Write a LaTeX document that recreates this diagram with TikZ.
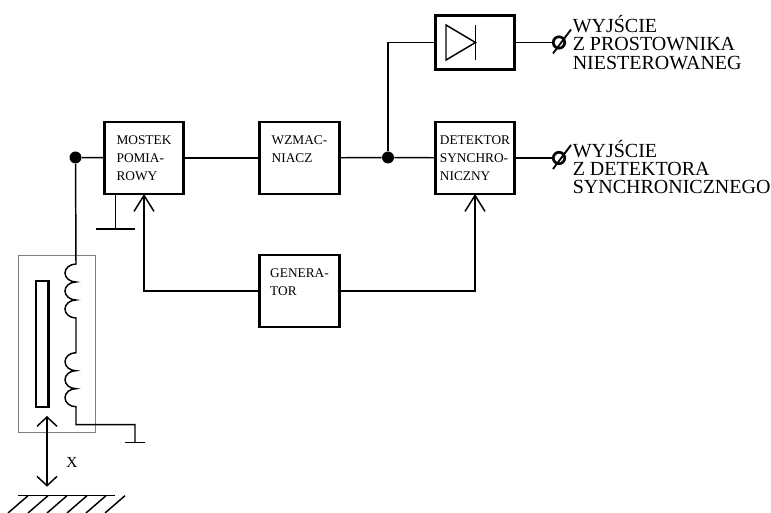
\documentclass[tikz,border=0pt]{standalone}
\usepackage{fontspec}
\setmainfont{Liberation Serif}
\usepackage{tikz}
\usetikzlibrary{arrows.meta}
\usepackage{xcolor}
\tikzset{
    blok/.style={draw, line width=2.2pt, minimum width=59.5pt, minimum height=54pt, inner xsep=0pt, align=left, font=\fontsize{10}{13.4}\selectfont, outer sep=0pt},
    linia/.style={line width=1.1pt},
    kropka/.style={circle, fill=black, inner sep=0pt, minimum size=9pt},
    wyjscie/.style={circle, draw, line width=2pt, inner sep=0pt, minimum size=8.6pt},
    opis/.style={anchor=west, align=left, inner sep=0pt, font=\fontsize{15}{13.6}\selectfont},
    grot/.style={-{Straight Barb[length=12pt, width=15pt, line width=1.1pt]}}
}
\begin{document}
\begin{tikzpicture}[x=0.75pt, y=-0.75pt]
            \useasboundingbox (0,0) rectangle (771,513);
            % bloki
            \node[blok] (mostek) at (144,158) {MOSTEK\\POMIA-\\ROWY};
            \node[blok] (wzmacniacz) at (299.5,158) {WZMAC-\\NIACZ\\~};
            \node[blok] (generator) at (299.5,291) {GENERA-\\TOR\\~};
            \node[blok] (detektor) at (475,158) {DETEKTOR\\SYNCHRO-\\NICZNY};
            \node[blok, minimum height=40pt] (dioda) at (475,42.5) {};
            % punkty
            \node[kropka] (wezel1) at (75.5,157.5) {};
            \node[kropka] (wezel2) at (388,157.5) {};
            \node[wyjscie] (wyj1) at (559,42.5) {};
            \node[wyjscie] (wyj2) at (559,158) {};
            \draw[line width=1.4pt] (wyj1.center) ++(-6,11) -- ++(18,-24);
            \draw[line width=1.4pt] (wyj2.center) ++(-6,11) -- ++(18,-24);
            % opisy wyjsc
            \node[opis] (opis1) at (572.5,42.5) {WYJŚCIE\\Z PROSTOWNIKA\\NIESTEROWANEG};
            \node[opis] (opis2) at (572.5,167) {WYJŚCIE\\Z DETEKTORA\\SYNCHRONICZNEGO};
            % polaczenia
            \draw[linia] (wezel1) -- (mostek);
            \draw[linia] (mostek) -- (wzmacniacz);
            \draw[linia] (wzmacniacz) -- (wezel2);
            \draw[linia] (wezel2) -- (detektor);
            \draw[linia] (wezel2) |- (dioda.west);
            \draw[linia] (dioda) -- (wyj1);
            \draw[linia] (detektor) -- (wyj2);
            \draw[linia, grot] (generator.west) -| (mostek.south);
            \draw[linia, grot] (generator.east) -| (detektor.south);
            % dioda
            \coordinate (d1) at (446,25);
            \coordinate (d2) at (446,60);
            \coordinate (d3) at (475.5,42.5);
            \draw[linia] (d1) -- (d2) -- (d3) -- cycle;
            \draw[linia] (475.5,25) -- (475.5,60);
            % masa mostka
            \coordinate (m1) at (115.3,194);
            \coordinate (m2) at (115.3,229);
            \draw[linia] (m1) -- (m2);
            \draw[linia] (96,229) -- (134.7,229);
            % czujnik
            \node[draw=gray, line width=0.75pt, minimum width=58pt, minimum height=132.5pt, inner sep=0pt] (czujnik) at (56.7,344.3) {};
            \node[draw, line width=2.2pt, minimum width=9.3pt, minimum height=94.5pt, inner sep=0pt] (rdzen) at (42.2,344) {};
            \coordinate (c1) at (76,264);
            \coordinate (c2) at (76,352.7);
            \draw[linia] (wezel1) -- (c1) \foreach \i in {1,2,3} {arc[start angle=270, end angle=90, x radius=11, y radius=9]} -- (c2) \foreach \i in {1,2,3} {arc[start angle=270, end angle=90, x radius=11, y radius=9]} -- ++(0,18) -| (135,442.7);
            \draw[linia] (125,442.7) -- (144.7,442.7);
            % przesuw
            \coordinate (x1) at (47,416);
            \coordinate (x2) at (47,486.7);
            \draw[linia, {Straight Barb[length=7pt, width=15pt, line width=1.1pt]}-{Straight Barb[length=7pt, width=15pt, line width=1.1pt]}] (x1) -- (x2);
            \node[font=\fontsize{11.5}{12}\selectfont, inner sep=0pt] (xlab) at (72,462) {X};
            % podloze
            \draw[linia] (18,495.7) -- (115,495.7);
            \foreach \x in {28,48,67,87,106,125} {
                \draw[linia] (\x,495.7) -- ++(-20,17.3);
            }
\end{tikzpicture}
\end{document}
